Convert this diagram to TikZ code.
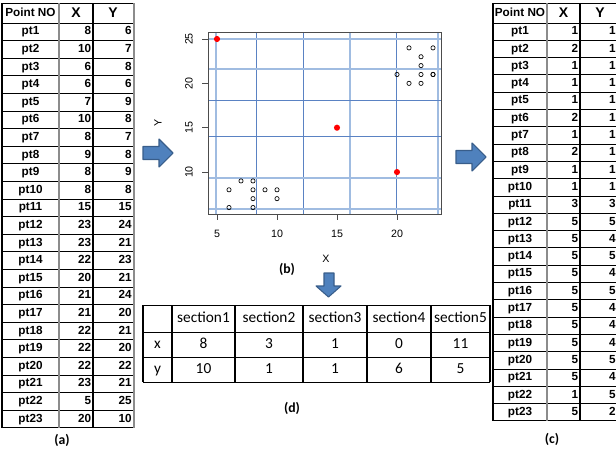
\documentclass[tikz,border=0pt]{standalone}
\usepackage{fontspec}
\setmainfont{Carlito}
\newfontfamily\tabfont{Liberation Sans}
\usepackage{tikz}

\definecolor{arrowblue}{RGB}{79,129,189}
\definecolor{arrowedge}{RGB}{56,93,138}
\definecolor{gridlt}{RGB}{160,188,225}
\definecolor{griddk}{RGB}{90,130,195}

\begin{document}
\begin{tikzpicture}[x=0.75pt, y=-0.75pt, line width=0.6pt,
  tabtext/.style={font=\tabfont\bfseries\fontsize{8.8}{10}\selectfont, inner sep=0pt, text height=6.4pt, text depth=1.7pt},
  tabhead/.style={font=\tabfont\bfseries\fontsize{10.5}{12}\selectfont, inner sep=0pt},
  rowline/.style={draw=black, line width=0.7pt},
  colline/.style={draw=black!45, line width=1.2pt},
  sectext/.style={font=\fontsize{11.5}{13}\selectfont, inner sep=0pt, text height=8pt, text depth=2pt},
  plottext/.style={font=\tabfont\fontsize{8}{9}\selectfont, inner sep=0pt},
  caption/.style={font=\bfseries\fontsize{10.3}{12}\selectfont, inner sep=0pt},
  blockarrow/.style={fill=arrowblue, draw=arrowedge, line width=0.8pt, line join=round},
  lightgrid/.style={draw=gridlt, line width=1.3pt},
  darkgrid/.style={draw=griddk, line width=0.7pt}]

\useasboundingbox (0,0) rectangle (616,450);
\clip (0,0) rectangle (616,450);

% table (a): original points
\node[tabtext] (a-head) at (30.5,13) {Point NO};
\node[tabhead] (a-hx) at (76,13) {X};
\node[tabhead] (a-hy) at (113,13) {Y};
\draw[rowline] (2,3) -- (134,3);
\draw[rowline] (2,23) -- (134,23);
\foreach \xv/\yv [count=\i] in {8/6,10/7,6/8,6/6,7/9,10/8,8/7,9/8,8/9,8/8,15/15,23/24,
                                 23/21,22/23,20/21,21/24,21/20,22/21,22/20,22/22,23/21,5/25,20/10}{
  \node[tabtext] (a-p\i) at (30.5,{23+(\i-0.5)*17.6}) {pt\i};
  \node[tabtext, anchor=east] (a-x\i) at (91.5,{23+(\i-0.5)*17.6}) {\xv};
  \node[tabtext, anchor=east] (a-y\i) at (132,{23+(\i-0.5)*17.6}) {\yv};
  \draw[rowline] (2,{23+\i*17.6}) -- (134,{23+\i*17.6});
}
\draw[rowline, line width=1pt] (2,3) -- (2,427.8);
\draw[colline] (59,3) -- (59,427.8);
\draw[rowline, line width=1pt] (93,3) -- (93,427.8);
\draw[colline] (134,3) -- (134,427.8);
\node[caption] (cap-a) at (62,440) {(a)};

% table (c): section numbers of the points
\node[tabtext] (c-head) at (520,13) {Point NO};
\node[tabhead] (c-hx) at (563.5,13) {X};
\node[tabhead] (c-hy) at (600,13) {Y};
\draw[rowline] (493,3) -- (620,3);
\draw[rowline] (493,23) -- (620,23);
\foreach \xv/\yv [count=\i] in {1/1,2/1,1/1,1/1,1/1,2/1,1/1,2/1,1/1,1/1,3/3,5/5,
                                 5/4,5/5,5/4,5/5,5/4,5/4,5/4,5/5,5/4,1/5,5/2}{
  \node[tabtext] (c-p\i) at (520,{23+(\i-0.5)*17.3}) {pt\i};
  \node[tabtext, anchor=east] (c-x\i) at (578.5,{23+(\i-0.5)*17.3}) {\xv};
  \node[tabtext, anchor=east] (c-y\i) at (616,{23+(\i-0.5)*17.3}) {\yv};
  \draw[rowline] (493,{23+\i*17.3}) -- (620,{23+\i*17.3});
}
\draw[rowline, line width=1pt] (493,3) -- (493,420.9);
\draw[colline] (547,3) -- (547,420.9);
\draw[rowline, line width=1pt] (580,3) -- (580,420.9);
\node[caption] (cap-c) at (552,439) {(c)};

% block arrows
\filldraw[blockarrow] (143,146.5) -- (159,146.5) -- (159,139) -- (173,153) -- (159,167) -- (159,159.5) -- (143,159.5) -- cycle;
\filldraw[blockarrow] (456,150.5) -- (472,150.5) -- (472,143) -- (486,157) -- (472,171) -- (472,163.5) -- (456,163.5) -- cycle;
\filldraw[blockarrow] (324,273) -- (334,273) -- (334,286) -- (341,286) -- (328.5,297) -- (316,286) -- (324,286) -- cycle;

% plot (b), in data units
\begin{scope}[shift={(157,260.75)}, x=9pt, y=6.6525pt]
  % section grid
  \foreach \gx/\gs in {4.92/lightgrid, 8.33/darkgrid, 12.17/darkgrid, 16.08/lightgrid, 19.92/darkgrid, 23.42/lightgrid}
    \draw[\gs] (\gx,5.24) -- (\gx,25.76);
  \foreach \gy/\gs in {25/lightgrid, 21.62/lightgrid, 18.12/darkgrid, 14.06/darkgrid, 9.33/lightgrid, 5.83/lightgrid}
    \draw[\gs] (4.28,\gy) -- (23.72,\gy);
  % frame and axes
  \draw[black!70, line width=0.9pt] (4.28,5.24) rectangle (23.72,25.76);
  \foreach \t in {5,10,15,20}{
    \draw[black!70] (\t,5.24) -- ++(0,-4pt);
    \node[plottext] (xt\t) at (\t,3.0) {\t};
  }
  \foreach \t in {10,15,20,25}{
    \draw[black!70] (4.28,\t) -- ++(-4.5pt,0);
    \node[plottext, rotate=90] (yt\t) at (2.67,\t) {\t};
  }
  \node[plottext] (xlab) at (14.08,0.2) {X};
  \node[plottext, rotate=90] (ylab) at (0.08,15.5) {Y};
  % points
  \foreach \px/\py in {8/6,10/7,6/8,6/6,7/9,10/8,8/7,9/8,8/9,8/8,23/24,23/21,22/23,
                       20/21,21/24,21/20,22/21,22/20,22/22,23/21}
    \draw[black, line width=0.5pt] (\px,\py) circle [radius=1.6pt];
  % centres
  \foreach \px/\py in {15/15,5/25,20/10}
    \fill[red] (\px,\py) circle [radius=2.3pt];
\end{scope}
\node[caption] (cap-b) at (287,269) {(b)};

% table (d): points per section
\draw[rowline] (143,305) -- (490,305);
\draw[rowline] (143,332) -- (490,332);
\draw[rowline] (143,357) -- (490,357);
\draw[rowline] (143,382) -- (490,382);
\foreach \cx in {143,172,235,303,367,431,490}
  \draw[rowline, line width=0.9pt] (\cx,305) -- (\cx,382);
\foreach \nm/\cx/\xv/\yv [count=\k] in {section1/203.5/8/10, section2/269/3/1, section3/335/1/1,
                                        section4/399/0/6, section5/460.5/11/5}{
  \node[sectext] (d-h\k) at (\cx,318.5) {\nm};
  \node[sectext] (d-x\k) at (\cx,344.5) {\xv};
  \node[sectext] (d-y\k) at (\cx,369.5) {\yv};
}
\node[sectext] (d-rx) at (157.5,344.5) {x};
\node[sectext] (d-ry) at (157.5,369.5) {y};
\node[caption] (cap-d) at (292,408) {(d)};

\end{tikzpicture}
\end{document}
